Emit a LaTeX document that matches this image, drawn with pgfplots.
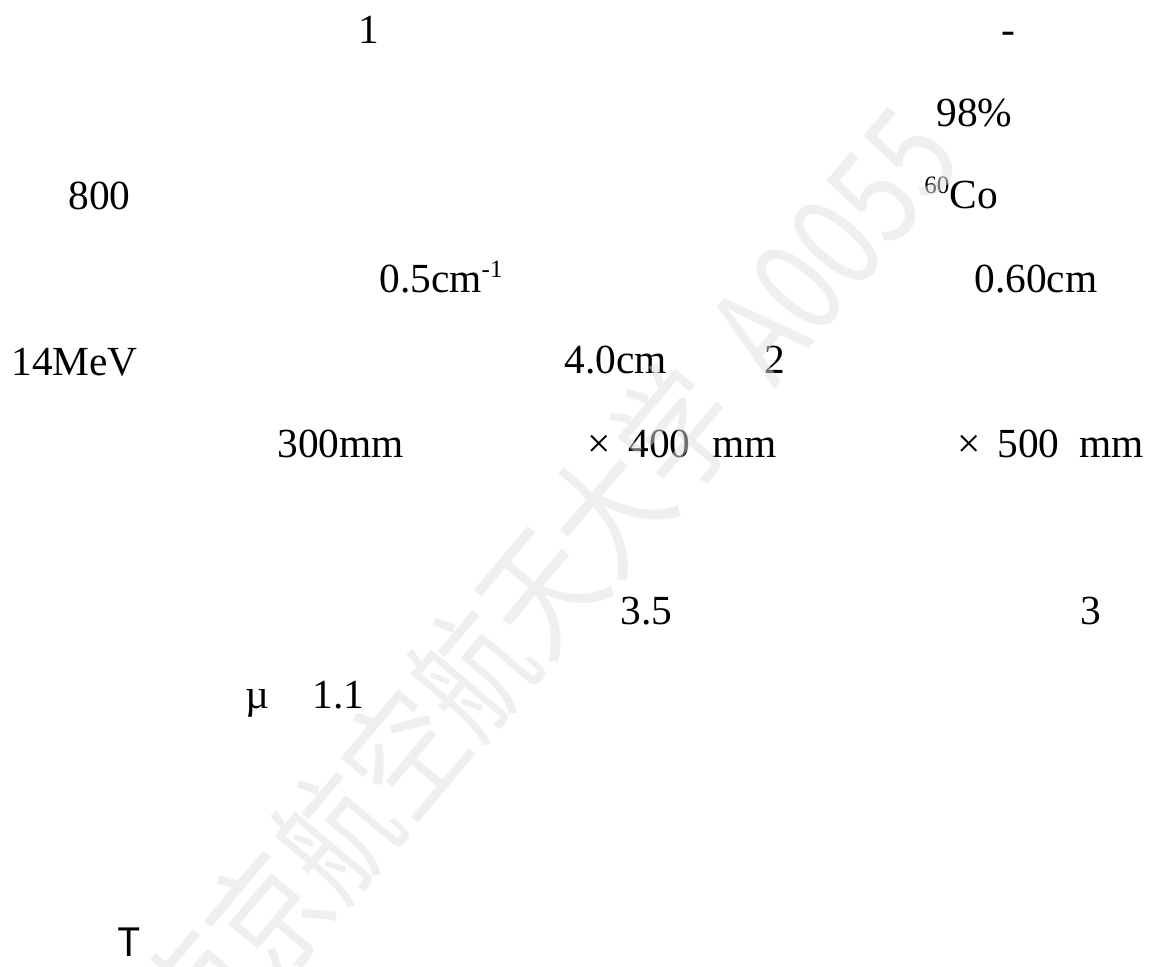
\documentclass[border=0pt]{standalone}
\usepackage{graphicx}
\usepackage{pgfplots}
\pgfplotsset{compat=1.18}
\usepackage{fontspec}
\setmainfont{Liberation Serif}
\newfontfamily\cjk{Noto Sans CJK SC}
\newcommand\sups[1]{\raisebox{7.5pt}{\fontsize{12.5pt}{12.5pt}\selectfont #1}}
\tikzset{t/.style={anchor=base west, inner sep=0pt, font=\fontsize{20.7pt}{24pt}\selectfont}}
\begin{document}
\begin{tikzpicture}
\useasboundingbox (0,0) rectangle (579pt,483pt);
\fill[white] (0,0) rectangle (579pt,483pt);
\clip (0,0) rectangle (579pt,483pt);
\begin{axis}[
  scale only axis, width=579pt, height=483pt,
  xmin=0, xmax=1158, ymin=0, ymax=966, y dir=reverse,
  hide axis, clip=false,
]
\addplot[draw=none] coordinates {(0,0) (1158,966)};
\node[t] at (axis cs:358,43) {1};
\node[t] at (axis cs:1001,43) {-};
\node[t] at (axis cs:936,126) {98\%};
\node[t] at (axis cs:68,209) {800};
\node[t] at (axis cs:924,208) {\sups{60}Co};
\node[t] at (axis cs:379,292) {0.5cm\sups{-1}};
\node[t] at (axis cs:974,292) {0.60cm};
\node[t] at (axis cs:11,375) {14MeV};
\node[t] at (axis cs:564,373) {4.0cm};
\node[t] at (axis cs:764,373) {2};
\node[t] at (axis cs:277,457) {300mm};
\node[t] at (axis cs:587,457) {×};
\node[t] at (axis cs:628,457) {400};
\node[t] at (axis cs:712,457) {mm};
\node[t] at (axis cs:957,457) {×};
\node[t] at (axis cs:997,457) {500};
\node[t] at (axis cs:1079,457) {mm};
\node[t] at (axis cs:620,624) {3.5};
\node[t] at (axis cs:1080,624) {3};
\node[t] at (axis cs:245,708) {µ};
\node[t] at (axis cs:312,708) {1.1};
\node[t, font=\cjk\fontsize{19.5pt}{22pt}\selectfont] at (axis cs:117,956) {T};
\node[anchor=west, rotate=50, inner sep=0pt, opacity=0.5, text=black!12,
      font=\cjk\fontsize{66pt}{66pt}\selectfont] at (axis cs:166,1036)
      {\scalebox{0.8}[1]{南京航空航天大学\hspace{26pt}A0055}};
\end{axis}
\end{tikzpicture}
\end{document}
